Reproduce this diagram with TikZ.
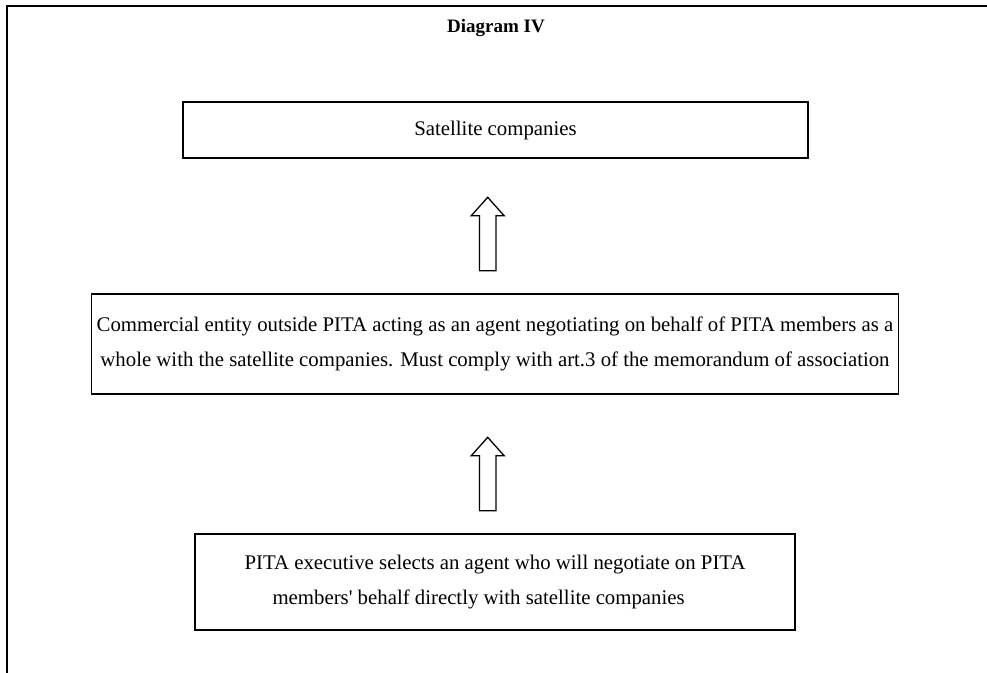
\documentclass[tikz,border=0pt]{standalone}
\usepackage{fontspec}
\setmainfont{Liberation Serif}
\begin{document}
\begin{tikzpicture}[x=1pt,y=-1pt,
  box/.style={draw,line width=1.4pt,inner sep=0pt,font=\fontsize{20.8}{34.5}\selectfont,align=center},
  title/.style={font=\fontsize{19}{22}\selectfont\bfseries},
  blockarrow/.pic={
    \draw[line width=1.3pt,line join=miter,fill=white]
      (0,0) -- (16.5,18.5) -- (8.2,18.5) -- (8.2,73.5) -- (-8.2,73.5)
      -- (-8.2,18.5) -- (-16.5,18.5) -- cycle;
  }]
\useasboundingbox (0,0) rectangle (987,672);
% outer frame (runs past the right and bottom edges)
\draw[line width=2pt] (7,700) -- (7,6) -- (1000,6);
\node[title] (ttl) at (496,28) {Diagram IV};
\node[box,minimum width=625,minimum height=56] (sat) at (495.5,130)
  {Satellite companies};
\node[box,minimum width=807,minimum height=100] (agent) at (495,344)
  {Commercial entity outside PITA acting as an agent negotiating on behalf of PITA members as a\\
   whole with the satellite companies. Must comply with art.3 of the memorandum of association};
\node[box,align=left,minimum width=600,minimum height=96] (exec) at (495,582)
  {PITA executive selects an agent who will negotiate on PITA\\
   \hspace*{28pt}members\textquotesingle{} behalf directly with satellite companies};
% block arrows between the boxes
\coordinate (a1) at (487.7,197.3);
\coordinate (a2) at (487.7,437.3);
\pic at (a1) {blockarrow};
\pic at (a2) {blockarrow};
\end{tikzpicture}
\end{document}
